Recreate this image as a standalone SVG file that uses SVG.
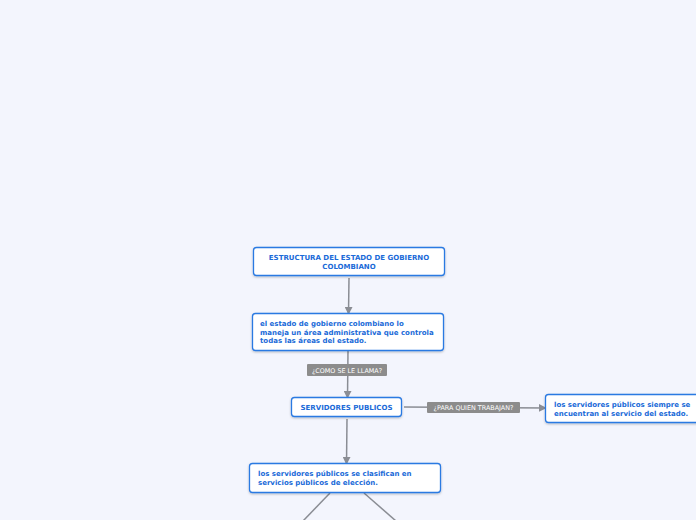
<svg xmlns="http://www.w3.org/2000/svg" width="696" height="520" viewBox="0 0 696 520">
<defs>
<marker id="arr" viewBox="0 0 10 10" refX="9" refY="5" markerWidth="8" markerHeight="8" markerUnits="userSpaceOnUse" orient="auto">
<path d="M0,0 L10,5 L0,10 z" fill="#8a8d94"/>
</marker>
<filter id="sh" x="-10%" y="-20%" width="120%" height="150%">
<feDropShadow dx="0" dy="1" stdDeviation="0.8" flood-color="#000" flood-opacity="0.25"/>
</filter>
</defs>
<style>
.node rect{fill:#fff;stroke:#2a7ae2;stroke-width:1.3;filter:url(#sh)}
.t{font-family:"DejaVu Sans",Verdana,sans-serif;font-weight:bold;font-size:7px;fill:#1a6ad8}
.c{text-anchor:middle}
.conn line,.conn path{stroke:#8a8d94;stroke-width:1.5;fill:none}
.lb rect{fill:#8c8c8c}
.lb text{font-family:"DejaVu Sans",Verdana,sans-serif;font-size:6.4px;fill:#fff;text-anchor:middle}
</style>
<rect width="696" height="520" fill="#f3f5fd"/>
<g id="connectors" class="conn">
<line x1="349" y1="278" x2="348.5" y2="314" marker-end="url(#arr)"/>
<line x1="348" y1="351" x2="347.5" y2="398" marker-end="url(#arr)"/>
<line x1="404" y1="407" x2="546" y2="408" marker-end="url(#arr)"/>
<line x1="347" y1="419" x2="346.5" y2="464" marker-end="url(#arr)"/>
<line x1="330" y1="493" x2="303" y2="521"/>
<line x1="364" y1="493" x2="396" y2="521"/>
</g>
<g class="lb" id="label-como">
<rect x="307" y="364" width="80" height="12" rx="1"/>
<text x="347" y="372.5">¿COMO SE LE LLAMA?</text>
</g>
<g class="lb" id="label-para">
<rect x="427" y="402" width="93" height="11" rx="1"/>
<text x="473.5" y="410">¿PARA QUIEN TRABAJAN?</text>
</g>
<g class="node" id="n1">
<rect x="253.5" y="247.5" width="191" height="28" rx="3"/>
<text class="t c" x="349" y="260">ESTRUCTURA DEL ESTADO DE GOBIERNO</text>
<text class="t c" x="349" y="268.5">COLOMBIANO</text>
</g>
<g class="node" id="n2">
<rect x="252.5" y="313.5" width="191" height="37" rx="3"/>
<text class="t" x="260" y="326">el estado de gobierno colombiano lo</text>
<text class="t" x="260" y="334.5">maneja un área administrativa que controla</text>
<text class="t" x="260" y="343">todas las áreas del estado.</text>
</g>
<g class="node" id="n3">
<rect x="291.5" y="397.5" width="110" height="19" rx="3"/>
<text class="t c" x="346.5" y="410">SERVIDORES PUBLICOS</text>
</g>
<g class="node" id="n4">
<rect x="545.5" y="394.5" width="160" height="28" rx="3"/>
<text class="t" x="554" y="407">los servidores públicos siempre se</text>
<text class="t" x="554" y="415.5">encuentran al servicio del estado.</text>
</g>
<g class="node" id="n5">
<rect x="249.5" y="463.5" width="191" height="29" rx="3"/>
<text class="t" x="258" y="476">los servidores públicos se clasifican en</text>
<text class="t" x="258" y="484.5">servicios públicos de elección.</text>
</g>
</svg>
